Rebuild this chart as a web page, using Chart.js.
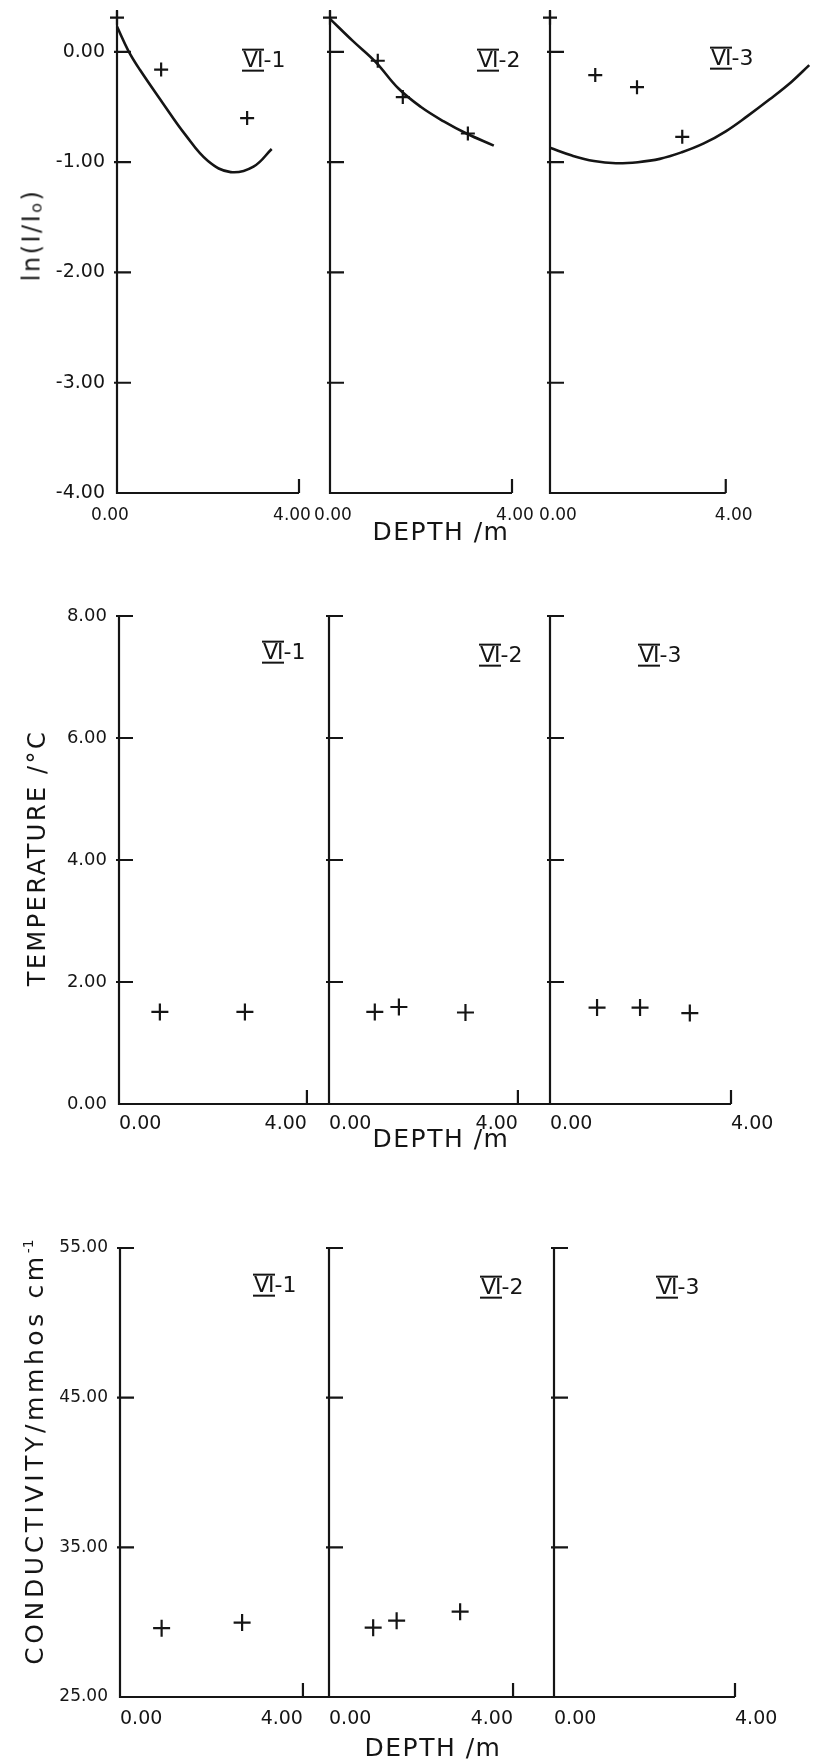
<!DOCTYPE html>
<html><head><meta charset="utf-8">
<script src="https://cdn.jsdelivr.net/npm/chart.js@4.4.1/dist/chart.umd.min.js"></script>
<style>
html,body{margin:0;padding:0;background:#fff;}
#page{position:relative;width:818px;height:1761px;overflow:hidden;background:#fff;font-family:'DejaVu Sans',sans-serif;color:#151515;}
#page canvas{position:absolute;left:0;}
.t{position:absolute;white-space:nowrap;line-height:1;}
.rot{transform:translate(-50%,-50%) rotate(-90deg);font-size:24px;letter-spacing:2.5px;}
.rot.wide{font-size:25px;letter-spacing:3.6px;}
.rot sub{font-size:16px;vertical-align:-2px;}
.rot sup{font-size:14px;vertical-align:10px;letter-spacing:0;}
.depth{transform:translate(-50%,-50%);font-size:25px;letter-spacing:1.5px;}
.st{font-size:22px;transform:translateY(-50%);}
.st .r{display:inline-block;border-top:2px solid #151515;border-bottom:2px solid #151515;line-height:0.85;padding:0 1px;letter-spacing:-1px;}
</style></head>
<body>
<div id="page"></div>
<script>
// ---------------- DATA ----------------
const stations = ['1', '2', '3'];
const depthTicks = [0, 4];
const lnTicks = [-4, -3, -2, -1, 0];
const tempTicks = [0, 2, 4, 6, 8];
const condTicks = [25, 35, 45, 55];

// ln(I/Io) measurements
const lnDepth1 = [0, 0.97, 2.86];
const lnValue1 = [0.31, -0.16, -0.60];
const lnDepth2 = [0, 1.05, 1.60, 3.03];
const lnValue2 = [0.31, -0.08, -0.41, -0.74];
const lnDepth3 = [0, 1.03, 1.98, 3.01];
const lnValue3 = [0.31, -0.21, -0.32, -0.77];

// fitted ln(I/Io) curves
const fitDepth1 = [0, 0.25, 0.5, 1.0, 1.5, 2.0, 2.5, 3.0, 3.4];
const fitValue1 = [0.23, 0.01, -0.16, -0.46, -0.75, -0.99, -1.09, -1.04, -0.88];
const fitDepth2 = [0, 0.5, 1.0, 1.5, 2.0, 2.5, 3.0, 3.6];
const fitValue2 = [0.30, 0.10, -0.09, -0.33, -0.50, -0.63, -0.74, -0.85];
const fitDepth3 = [0, 0.5, 1.0, 1.5, 2.0, 2.5, 3.0, 3.5, 4.0, 4.5, 5.0, 5.5, 5.9];
const fitValue3 = [-0.87, -0.94, -0.99, -1.01, -1.00, -0.97, -0.91, -0.83, -0.72, -0.58, -0.43, -0.27, -0.12];

// temperature
const tDepth1 = [0.87, 2.68];
const tValue1 = [1.51, 1.51];
const tDepth2 = [0.97, 1.48, 2.89];
const tValue2 = [1.51, 1.59, 1.50];
const tDepth3 = [1.04, 1.99, 3.09];
const tValue3 = [1.58, 1.58, 1.49];

// conductivity
const cDepth1 = [0.91, 2.67];
const cValue1 = [29.6, 29.97];
const cDepth2 = [0.96, 1.47, 2.85];
const cValue2 = [29.63, 30.1, 30.7];
const cDepth3 = [];
const cValue3 = [];

// ---------------- RENDER ----------------
const INK = '#151515';
const page = document.getElementById('page');
Chart.defaults.font.family = "'DejaVu Sans', sans-serif";
Chart.defaults.color = INK;

const zip = (xs, ys) => xs.map((x, i) => ({x: x, y: ys[i]}));

const framePlugin = {
  id: 'frame',
  afterDatasetsDraw(chart, args, o) {
    const xs = chart.scales.x, ys = chart.scales.y, ctx = chart.ctx;
    const x0 = xs.getPixelForValue(0);
    const yb = ys.getPixelForValue(ys.min);
    const yt = ys.getPixelForValue(ys.max);
    ctx.save();
    ctx.strokeStyle = INK; ctx.lineWidth = 2.2;
    ctx.beginPath();
    ctx.moveTo(x0, yt); ctx.lineTo(x0, yb + 1);
    ctx.moveTo(x0 - 1, yb); ctx.lineTo(xs.getPixelForValue(o.axisEnd), yb);
    o.yMarks.forEach(v => {
      if (v === ys.min) return;
      const p = ys.getPixelForValue(v);
      ctx.moveTo(x0 - 3, p); ctx.lineTo(x0 + 14, p);
    });
    o.xMarks.forEach(v => {
      const p = xs.getPixelForValue(v);
      ctx.moveTo(p, yb); ctx.lineTo(p, yb - 14);
    });
    ctx.stroke();
    ctx.restore();
  }
};

function makePanel(cfg) {
  const c = document.createElement('canvas');
  c.width = 818; c.height = cfg.rowH;
  c.style.top = cfg.rowTop + 'px';
  page.appendChild(c);
  const YW = cfg.showY ? 70 : 0, XH = 40;
  const datasets = [];
  if (cfg.fit) {
    datasets.push({data: cfg.fit, showLine: true, borderColor: INK, borderWidth: 2.6,
      pointRadius: 0, tension: 0.4, clip: false});
  }
  datasets.push({data: cfg.pts, showLine: false, pointStyle: 'cross', pointRadius: cfg.r,
    pointBorderWidth: 2.2, borderColor: INK, backgroundColor: INK, clip: false});
  new Chart(c, {
    type: 'scatter',
    data: {datasets},
    options: {
      responsive: false, animation: false, events: [],
      layout: {padding: {left: cfg.left - YW, right: 818 - cfg.right,
        top: cfg.chartTop - cfg.rowTop, bottom: cfg.rowTop + cfg.rowH - cfg.chartBottom - XH}},
      plugins: {legend: {display: false}, tooltip: {enabled: false},
        frame: {axisEnd: cfg.axisEnd, yMarks: cfg.yTicks, xMarks: [depthTicks[1]]}},
      scales: {
        x: {type: 'linear', min: 0, max: cfg.xMax, grid: {display: false}, border: {display: false},
          afterBuildTicks: s => { s.ticks = depthTicks.map(v => ({value: v})); },
          afterFit: s => { s.height = XH; s.paddingLeft = 0; s.paddingRight = 0; },
          ticks: {autoSkip: false, maxRotation: 0, minRotation: 0, align: cfg.xAlign,
            labelOffset: cfg.xOff || 0,
            padding: cfg.xPad, font: {size: cfg.xFont}, color: INK, callback: v => Number(v).toFixed(2)}},
        y: {type: 'linear', min: cfg.yMin, max: cfg.yMax, grid: {display: false}, border: {display: false},
          afterBuildTicks: s => { s.ticks = cfg.yTicks.map(v => ({value: v})); },
          afterFit: s => { s.width = YW; s.paddingTop = 0; s.paddingBottom = 0; },
          ticks: {display: cfg.showY, padding: 4, font: {size: cfg.yFont}, color: INK,
            callback: v => Number(v).toFixed(2)}}
      }
    },
    plugins: [framePlugin]
  });
}

// Row 1: ln(I/Io)
const row1 = {rowTop: 0, rowH: 560, chartTop: 10, chartBottom: 493, yMin: -4, yMax: 0.38,
  yTicks: lnTicks, r: 7, xAlign: 'center', xPad: 4, yFont: 19, xFont: 17};
makePanel({...row1, showY: true, left: 117, right: 299, xMax: 4, axisEnd: 4, xOff: -7,
  pts: zip(lnDepth1, lnValue1), fit: zip(fitDepth1, fitValue1)});
makePanel({...row1, showY: false, left: 330, right: 512, xMax: 4, axisEnd: 4, xOff: 3,
  pts: zip(lnDepth2, lnValue2), fit: zip(fitDepth2, fitValue2)});
makePanel({...row1, showY: false, left: 550, right: 818, xMax: 5.89, axisEnd: 4, xOff: 8,
  pts: zip(lnDepth3, lnValue3), fit: zip(fitDepth3, fitValue3)});

// Row 2: temperature
const row2 = {rowTop: 560, rowH: 600, chartTop: 616, chartBottom: 1104, yMin: 0, yMax: 8,
  yTicks: tempTicks, r: 8.5, xPad: 1, yFont: 18, xFont: 19};
makePanel({...row2, showY: true, left: 119, right: 329, xMax: 4.47, axisEnd: 4.47, xAlign: 'inner',
  pts: zip(tDepth1, tValue1)});
makePanel({...row2, showY: false, left: 329, right: 550, xMax: 4.68, axisEnd: 4.68, xAlign: 'inner',
  pts: zip(tDepth2, tValue2)});
makePanel({...row2, showY: false, left: 550, right: 731, xMax: 4, axisEnd: 4, xAlign: 'start',
  pts: zip(tDepth3, tValue3)});

// Row 3: conductivity
const row3 = {rowTop: 1160, rowH: 601, chartTop: 1248, chartBottom: 1697, yMin: 25, yMax: 55,
  yTicks: condTicks, r: 8.5, xPad: 3, yFont: 17, xFont: 19};
makePanel({...row3, showY: true, left: 120, right: 329, xMax: 4.57, axisEnd: 4.57, xAlign: 'inner',
  pts: zip(cDepth1, cValue1)});
makePanel({...row3, showY: false, left: 329, right: 554, xMax: 4.89, axisEnd: 4.89, xAlign: 'inner',
  pts: zip(cDepth2, cValue2)});
makePanel({...row3, showY: false, left: 554, right: 735, xMax: 4, axisEnd: 4, xAlign: 'start',
  pts: zip(cDepth3, cValue3)});

// ---------------- TEXT ----------------
function addText(html, cls, x, y) {
  const d = document.createElement('div');
  d.className = 't ' + cls;
  d.innerHTML = html;
  d.style.left = x + 'px';
  d.style.top = y + 'px';
  page.appendChild(d);
}
addText('ln(I/I<sub>o</sub>)', 'rot', 32, 235);
addText('TEMPERATURE /°C', 'rot', 37, 858);
addText('CONDUCTIVITY/mmhos cm<sup>-1</sup>', 'rot wide', 34, 1452);
addText('DEPTH /m', 'depth', 441, 531);
addText('DEPTH /m', 'depth', 441, 1138);
addText('DEPTH /m', 'depth', 433, 1747);
const stLabelPos = [
  [[242, 60], [477, 60], [710, 58]],
  [[262, 652], [479, 655], [638, 655]],
  [[253, 1285], [480, 1287], [656, 1287]]
];
stLabelPos.forEach(row => row.forEach((p, i) => {
  addText('<span class="r">VI</span>-' + stations[i], 'st', p[0], p[1]);
}));
</script>
</body></html>
